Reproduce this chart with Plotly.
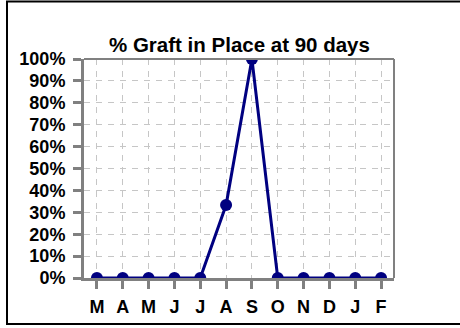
import plotly.graph_objects as go

# Monthly share of grafts still in place at 90 days
months = ["M", "A", "M", "J", "J", "A", "S", "O", "N", "D", "J", "F"]
pct_in_place = [0, 0, 0, 0, 0, 33.3, 100, 0, 0, 0, 0, 0]
y_ticks = list(range(0, 101, 10))

x_pos = list(range(len(months)))

NAVY = "#000080"
AXIS_GRAY = "#808080"
GRID_GRAY = "#c6c6c6"
FONT = "Arial, Liberation Sans, sans-serif"

W, H = 460, 328
ML, MR, MT, MB = 84, 66, 59, 50
PW, PH = W - ML - MR, H - MT - MB

fig = go.Figure()
fig.add_trace(go.Scatter(
    x=x_pos,
    y=pct_in_place,
    mode="lines+markers",
    line=dict(color=NAVY, width=3),
    marker=dict(color=NAVY, size=12),
    cliponaxis=True,
    showlegend=False,
))


def px_x(p):
    return (p - ML) / PW


def px_y(p):
    return (H - MB - p) / PH


fig.update_layout(
    width=W,
    height=H,
    margin=dict(l=ML, r=MR, t=MT, b=MB),
    paper_bgcolor="white",
    plot_bgcolor="white",
    font=dict(family=FONT, color="black"),
    annotations=[dict(
        text="<b>% Graft in Place at 90 days</b>",
        xref="paper", yref="paper",
        x=0.5, y=px_y(58),
        xanchor="center", yanchor="bottom",
        showarrow=False,
        font=dict(family=FONT, size=20.5, color="black"),
    )],
    shapes=[
        # outer frame
        dict(type="rect", xref="paper", yref="paper",
             x0=px_x(7), x1=px_x(470), y0=px_y(324), y1=px_y(1.5),
             line=dict(color="black", width=2), layer="below"),
        # top and right plot border
        dict(type="line", xref="paper", yref="paper",
             x0=0, x1=1, y0=1, y1=1,
             line=dict(color=AXIS_GRAY, width=2)),
        dict(type="line", xref="paper", yref="paper",
             x0=1, x1=1, y0=0, y1=1,
             line=dict(color=AXIS_GRAY, width=2)),
    ],
)

fig.update_xaxes(
    range=[-0.5, len(months) - 0.5],
    tickmode="array",
    tickvals=x_pos,
    ticktext=[f"<b>{m}</b>" for m in months],
    tickfont=dict(family=FONT, size=18, color="black"),
    ticks="outside", ticklen=8, tickwidth=3, tickcolor=AXIS_GRAY,
    ticklabelstandoff=2,
    showline=True, linecolor=AXIS_GRAY, linewidth=3,
    showgrid=True, gridcolor=GRID_GRAY, gridwidth=1, griddash="6px,6px",
    zeroline=False,
    fixedrange=True,
)

fig.update_yaxes(
    range=[0, 100],
    tickmode="array",
    tickvals=y_ticks,
    ticktext=[f"<b>{v}%</b>" for v in y_ticks],
    tickfont=dict(family=FONT, size=18, color="black"),
    ticks="outside", ticklen=8, tickwidth=3, tickcolor=AXIS_GRAY,
    ticklabelstandoff=4,
    showline=True, linecolor=AXIS_GRAY, linewidth=3,
    showgrid=True, gridcolor=GRID_GRAY, gridwidth=1, griddash="6px,6px",
    zeroline=False,
    fixedrange=True,
)

fig.write_html("out.html", config={"displayModeBar": False})
